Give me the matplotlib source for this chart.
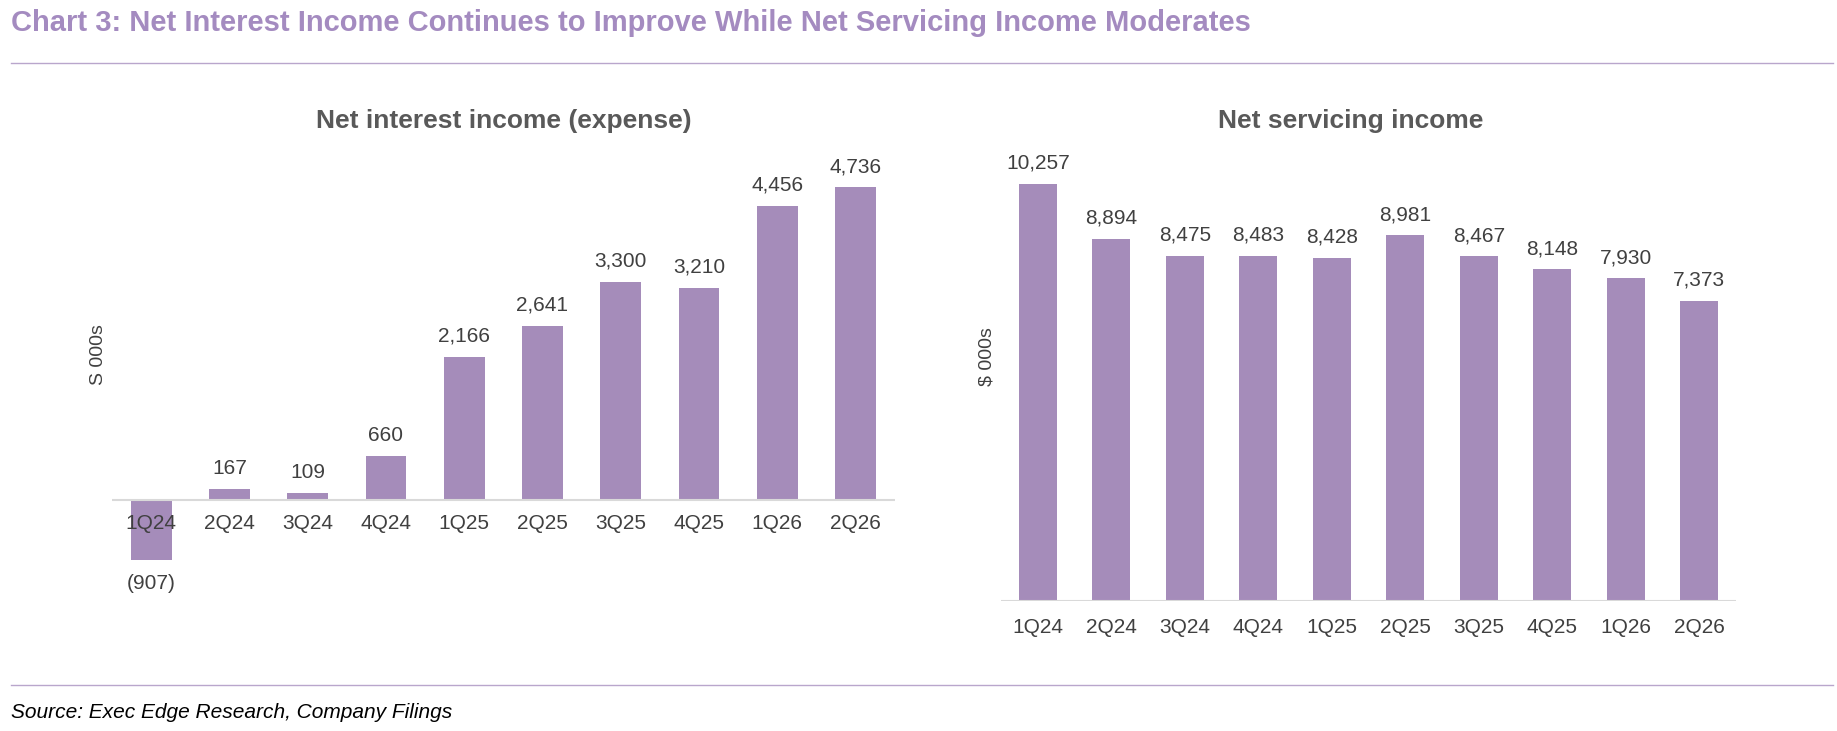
import matplotlib.pyplot as plt
from matplotlib.lines import Line2D

plt.rcParams['font.family'] = ['Liberation Sans', 'DejaVu Sans']

quarters = ["1Q24", "2Q24", "3Q24", "4Q24", "1Q25", "2Q25", "3Q25", "4Q25", "1Q26", "2Q26"]
net_interest = [-907, 167, 109, 660, 2166, 2641, 3300, 3210, 4456, 4736]
net_servicing = [10257, 8894, 8475, 8483, 8428, 8981, 8467, 8148, 7930, 7373]

BAR = "#A58CBA"
TITLE_C = "#A48BC0"
TXT = "#404040"


def fmt(v):
    return f"({abs(v):,})" if v < 0 else f"{v:,}"


fig = plt.figure(figsize=(18.37, 7.31), dpi=100)

fig.text(0.006, 0.968, "Chart 3: Net Interest Income Continues to Improve While Net Servicing Income Moderates",
         color=TITLE_C, fontsize=21, fontweight="bold", va="center")
fig.add_artist(Line2D([0.006, 0.998], [0.914, 0.914], color="#B9A6CC", lw=1))
fig.add_artist(Line2D([0.006, 0.998], [0.063, 0.063], color="#B9A6CC", lw=1))
fig.text(0.006, 0.012, "Source: Exec Edge Research, Company Filings", fontsize=15,
         style="italic", color="black", va="bottom")

# left chart
ax1 = fig.add_axes([0.061, 0.2075, 0.426, 0.6145])
x = range(len(quarters))
ax1.bar(x, net_interest, width=0.52, color=BAR)
ax1.set_ylim(-1200, 5600)
ax1.set_xlim(-0.5, len(quarters) - 0.5)
ax1.axhline(0, color="#D9D9D9", lw=1.5)
for i, v in enumerate(net_interest):
    if v >= 0:
        ax1.annotate(fmt(v), (i, v), xytext=(0, 8), textcoords="offset points",
                     ha="center", va="bottom", fontsize=15, color=TXT)
    else:
        ax1.annotate(fmt(v), (i, v), xytext=(0, -10), textcoords="offset points",
                     ha="center", va="top", fontsize=15, color=TXT)
    ax1.annotate(quarters[i], (i, 0), xytext=(0, -10), textcoords="offset points",
                 ha="center", va="top", fontsize=15, color=TXT)
ax1.set_xticks([])
ax1.set_yticks([])
for s in ax1.spines.values():
    s.set_visible(False)
ax1.set_ylabel("S 000s", fontsize=14, color=TXT, labelpad=4)
fig.text(0.274, 0.835, "Net interest income (expense)", fontsize=19, fontweight="bold",
         color="#595959", ha="center", va="center")

# right chart
ax2 = fig.add_axes([0.545, 0.178, 0.40, 0.668])
ax2.bar(x, net_servicing, width=0.52, color=BAR)
ax2.set_ylim(0, 12000)
ax2.set_xlim(-0.5, len(quarters) - 0.5)
ax2.axhline(0, color="#D9D9D9", lw=1.5)
for i, v in enumerate(net_servicing):
    ax2.annotate(fmt(v), (i, v), xytext=(0, 8), textcoords="offset points",
                 ha="center", va="bottom", fontsize=15, color=TXT)
ax2.set_xticks(list(x))
ax2.set_xticklabels(quarters, fontsize=15, color=TXT)
ax2.tick_params(axis="x", length=0, pad=12)
ax2.set_yticks([])
for s in ax2.spines.values():
    s.set_visible(False)
ax2.set_ylabel("$ 000s", fontsize=14, color=TXT, labelpad=4)
fig.text(0.735, 0.835, "Net servicing income", fontsize=19, fontweight="bold",
         color="#595959", ha="center", va="center")

fig.savefig("out.png", dpi=100)
